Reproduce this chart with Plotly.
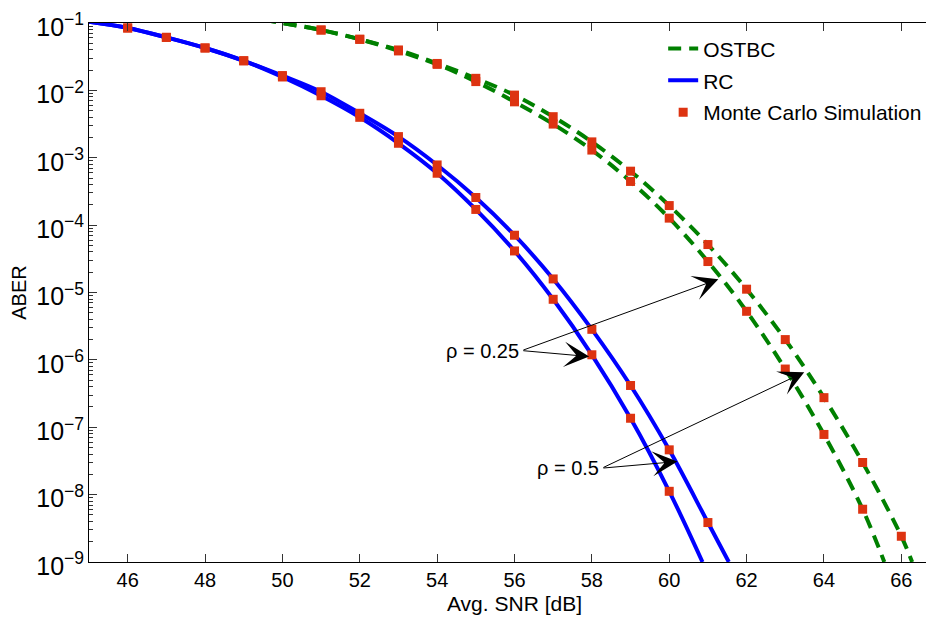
import plotly.graph_objects as go

# ---------------- data ----------------
# Analytical curves, RC scheme
rc_snr_025 = [45, 46, 47, 48, 49, 50, 51, 52, 53, 54, 55, 56, 57, 58, 59, 60, 60.86]
rc_aber_025 = [1.04e-1, 8.43e-2, 6.12e-2, 4.26e-2, 2.75e-2, 1.58e-2, 8.32e-3, 3.98e-3,
               1.64e-3, 5.89e-4, 1.71e-4, 4.14e-5, 7.93e-6, 1.19e-6, 1.36e-7, 1.12e-8, 1.0e-9]
rc_snr_05 = [45, 46, 47, 48, 49, 50, 51, 52, 53, 54, 55, 56, 57, 58, 59, 60, 61, 61.54]
rc_aber_05 = [1.04e-1, 8.43e-2, 6.12e-2, 4.26e-2, 2.75e-2, 1.66e-2, 9.55e-3, 4.57e-3,
              2.06e-3, 7.82e-4, 2.57e-4, 7.08e-5, 1.59e-5, 2.84e-6, 4.17e-7, 4.62e-8, 3.85e-9, 1.0e-9]

# Analytical curves, OSTBC scheme
ostbc_snr_025 = [49.5, 50, 51, 52, 53, 54, 55, 56, 57, 58, 59, 60, 61, 62, 63, 64, 65, 65.56]
ostbc_aber_025 = [1.12e-1, 1.0e-1, 7.87e-2, 5.73e-2, 3.85e-2, 2.43e-2, 1.35e-2, 6.76e-3, 3.16e-3,
                  1.30e-3, 4.45e-4, 1.27e-4, 2.88e-5, 5.26e-6, 7.31e-7, 7.82e-8, 6.07e-9, 1.0e-9]
ostbc_snr_05 = [49.5, 50, 51, 52, 53, 54, 55, 56, 57, 58, 59, 60, 61, 62, 63, 64, 65, 66, 66.28]
ostbc_aber_05 = [1.12e-1, 1.0e-1, 7.87e-2, 5.73e-2, 3.98e-2, 2.51e-2, 1.51e-2, 8.51e-3, 4.07e-3,
                 1.72e-3, 6.32e-4, 1.95e-4, 5.15e-5, 1.12e-5, 2.0e-6, 2.75e-7, 3.0e-8, 2.41e-9, 1.0e-9]

# Monte Carlo simulation points
sim_rc_snr_025 = [46, 47, 48, 49, 50, 51, 52, 53, 54, 55, 56, 57, 58, 59, 60]
sim_rc_aber_025 = [8.43e-2, 6.12e-2, 4.26e-2, 2.75e-2, 1.58e-2, 8.32e-3, 3.98e-3, 1.64e-3,
                   5.89e-4, 1.71e-4, 4.14e-5, 7.93e-6, 1.19e-6, 1.36e-7, 1.12e-8]
sim_rc_snr_05 = [46, 47, 48, 49, 50, 51, 52, 53, 54, 55, 56, 57, 58, 59, 60, 61]
sim_rc_aber_05 = [8.43e-2, 6.12e-2, 4.26e-2, 2.75e-2, 1.66e-2, 9.55e-3, 4.57e-3, 2.06e-3,
                  7.82e-4, 2.57e-4, 7.08e-5, 1.59e-5, 2.84e-6, 4.17e-7, 4.62e-8, 3.85e-9]
sim_ostbc_snr_025 = [51, 52, 53, 54, 55, 56, 57, 58, 59, 60, 61, 62, 63, 64, 65]
sim_ostbc_aber_025 = [7.87e-2, 5.73e-2, 3.85e-2, 2.43e-2, 1.35e-2, 6.76e-3, 3.16e-3, 1.30e-3,
                      4.45e-4, 1.27e-4, 2.88e-5, 5.26e-6, 7.31e-7, 7.82e-8, 6.07e-9]
sim_ostbc_snr_05 = [51, 52, 53, 54, 55, 56, 57, 58, 59, 60, 61, 62, 63, 64, 65, 66]
sim_ostbc_aber_05 = [7.87e-2, 5.73e-2, 3.98e-2, 2.51e-2, 1.51e-2, 8.51e-3, 4.07e-3, 1.72e-3,
                     6.32e-4, 1.95e-4, 5.15e-5, 1.12e-5, 2.0e-6, 2.75e-7, 3.0e-8, 2.41e-9]

x_ticks = [46, 48, 50, 52, 54, 56, 58, 60, 62, 64, 66]

# annotation anchor points (SNR, log10 ABER)
ann_025_tail = (56.19, -5.862)
ann_025_heads = [(57.93, -5.951), (61.27, -4.803)]
ann_05_tail = (58.26, -7.607)
ann_05_heads = [(60.21, -7.509), (63.49, -6.183)]

# ---------------- figure ----------------
FONT = "Liberation Sans, Arial, Helvetica, sans-serif"
GREEN = "#008000"
BLUE = "#0000FF"
RED = "#DD3311"

fig = go.Figure()

fig.add_trace(go.Scatter(x=ostbc_snr_025, y=ostbc_aber_025, mode="lines", name="OSTBC",
                         line=dict(color=GREEN, width=4, dash="13px,8px", shape="spline"),
                         legendgroup="a", showlegend=True))
fig.add_trace(go.Scatter(x=ostbc_snr_05, y=ostbc_aber_05, mode="lines", name="OSTBC",
                         line=dict(color=GREEN, width=4, dash="13px,8px", shape="spline"),
                         legendgroup="a", showlegend=False))
fig.add_trace(go.Scatter(x=rc_snr_025, y=rc_aber_025, mode="lines", name="RC",
                         line=dict(color=BLUE, width=4, shape="spline"),
                         legendgroup="b", showlegend=True))
fig.add_trace(go.Scatter(x=rc_snr_05, y=rc_aber_05, mode="lines", name="RC",
                         line=dict(color=BLUE, width=4, shape="spline"),
                         legendgroup="b", showlegend=False))

for i, (xs, ys) in enumerate([(sim_rc_snr_025, sim_rc_aber_025), (sim_rc_snr_05, sim_rc_aber_05),
                              (sim_ostbc_snr_025, sim_ostbc_aber_025), (sim_ostbc_snr_05, sim_ostbc_aber_05)]):
    fig.add_trace(go.Scatter(x=xs, y=ys, mode="markers", name="Monte Carlo Simulation",
                             marker=dict(symbol="square", size=9, color=RED, line=dict(width=0)),
                             legendgroup="c", showlegend=(i == 0)))

annotations = [
    dict(x=ann_025_tail[0], y=ann_025_tail[1], xref="x", yref="y", text="ρ = 0.25",
         showarrow=False, xanchor="right", yanchor="middle", xshift=-1,
         font=dict(family=FONT, size=20, color="black")),
    dict(x=ann_05_tail[0], y=ann_05_tail[1], xref="x", yref="y", text="ρ = 0.5",
         showarrow=False, xanchor="right", yanchor="middle", xshift=-1,
         font=dict(family=FONT, size=20, color="black")),
]
for tail, heads in [(ann_025_tail, ann_025_heads), (ann_05_tail, ann_05_heads)]:
    for hx, hy in heads:
        annotations.append(dict(x=hx, y=hy, xref="x", yref="y", ax=tail[0], ay=tail[1],
                                axref="x", ayref="y", text="", showarrow=True,
                                arrowhead=3, arrowsize=4.2, arrowwidth=1, arrowcolor="black",
                                standoff=0, startstandoff=0))

fig.update_layout(
    width=934, height=622,
    margin=dict(l=81.35, r=2.35, t=15, b=68, autoexpand=False),
    paper_bgcolor="white", plot_bgcolor="white",
    font=dict(family=FONT, size=20, color="black"),
    showlegend=True,
    legend=dict(x=0.6747, y=0.990, xanchor="left", yanchor="top",
                bgcolor="rgba(255,255,255,0)", borderwidth=0,
                font=dict(family=FONT, size=21, color="black"),
                traceorder="grouped", tracegroupgap=1.5),
    annotations=annotations,
)

fig.update_xaxes(
    range=[45, 67], tickvals=x_ticks, ticktext=[str(v) for v in x_ticks],
    ticks="inside", ticklen=8, tickcolor="#333", showline=True, linecolor="black", linewidth=1,
    mirror="ticks", showgrid=False, zeroline=False, automargin=False,
    ticklabeloverflow="allow",
    tickfont=dict(family=FONT, size=20, color="black"),
    title=dict(text="Avg. SNR [dB]", font=dict(family=FONT, size=21, color="black"), standoff=6),
)
fig.update_yaxes(
    type="log", range=[-9, -1], dtick=1, exponentformat="power", showexponent="all",
    ticks="inside", ticklen=8, tickcolor="#333", showline=True, linecolor="black", linewidth=1,
    mirror="ticks", showgrid=False, zeroline=False, automargin=False,
    ticklabeloverflow="allow", ticklabelshift=4,
    minor=dict(ticks="inside", ticklen=4, tickcolor="#333", dtick="D1", showgrid=False),
    tickfont=dict(family=FONT, size=20, color="black"),
    title=dict(text="ABER", font=dict(family=FONT, size=20, color="black"), standoff=4),
)

fig.write_html("out.html")
